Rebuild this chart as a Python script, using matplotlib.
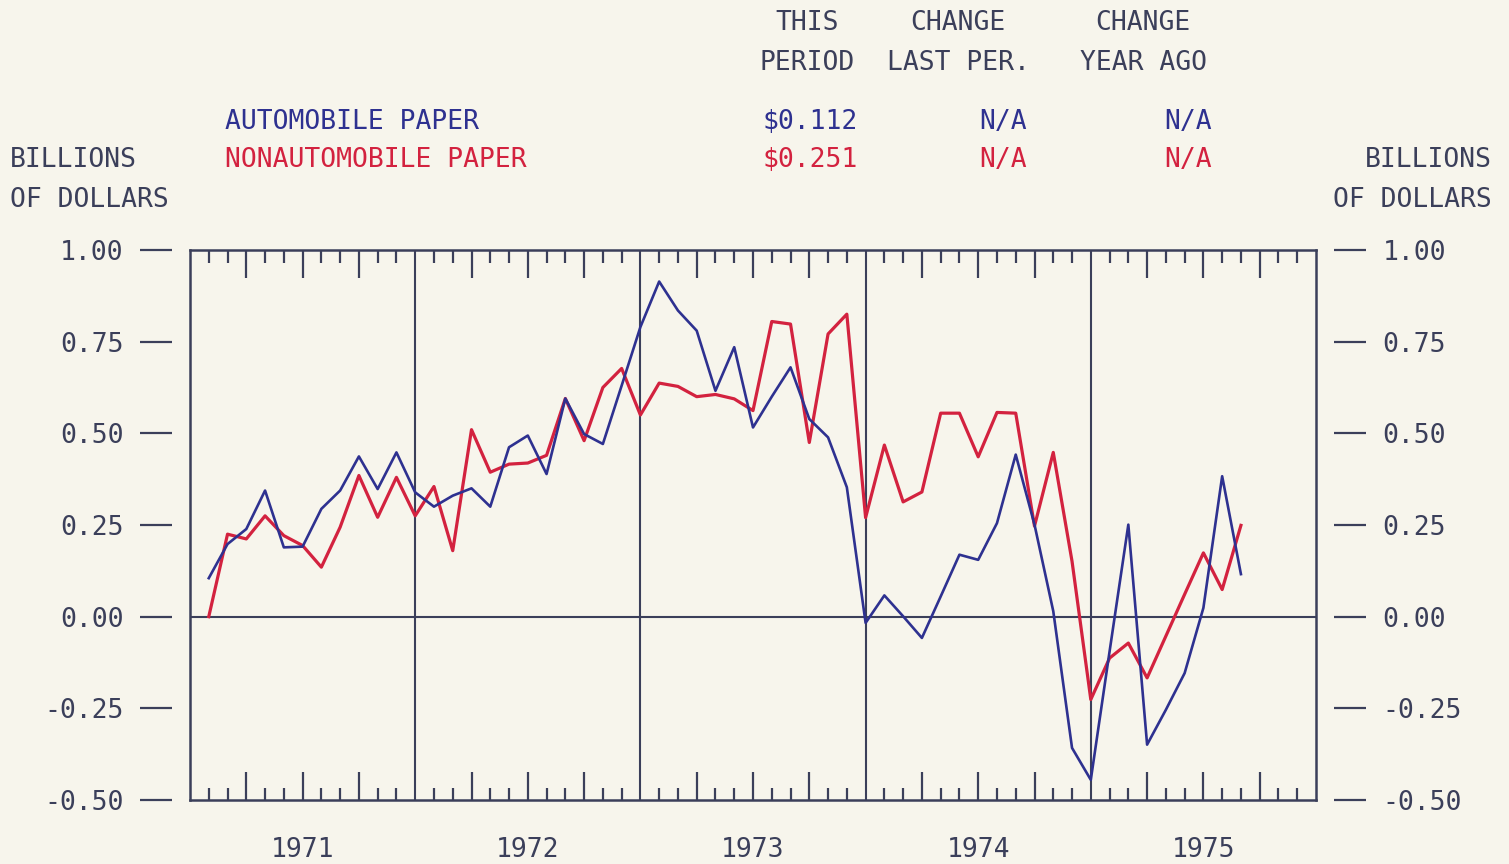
import matplotlib
matplotlib.use("Agg")
import matplotlib.pyplot as plt
import numpy as np

# monthly data, Jan 1971 .. Aug 1975 (billions of dollars)
years = ["1971", "1972", "1973", "1974", "1975"]
auto = [0.105, 0.198, 0.239, 0.344, 0.189, 0.191, 0.294, 0.344, 0.437, 0.348, 0.448, 0.339,
        0.300, 0.330, 0.350, 0.300, 0.462, 0.494, 0.389, 0.595, 0.498, 0.471, 0.630, 0.790,
        0.914, 0.835, 0.780, 0.616, 0.735, 0.516, 0.600, 0.680, 0.539, 0.489, 0.353, -0.017,
        0.058, 0.001, -0.058, 0.055, 0.169, 0.155, 0.255, 0.442, 0.251, 0.015, -0.358, -0.445,
        -0.095, 0.251, -0.349, -0.254, -0.154, 0.024, 0.383, 0.116]
nonauto = [0.000, 0.225, 0.212, 0.275, 0.221, 0.194, 0.135, 0.244, 0.385, 0.271, 0.380, 0.275,
           0.355, 0.180, 0.510, 0.394, 0.416, 0.419, 0.440, 0.595, 0.480, 0.625, 0.677, 0.550,
           0.637, 0.628, 0.600, 0.606, 0.594, 0.562, 0.805, 0.798, 0.475, 0.771, 0.825, 0.270,
           0.468, 0.313, 0.340, 0.555, 0.555, 0.436, 0.557, 0.555, 0.247, 0.448, 0.151, -0.226,
           -0.113, -0.072, -0.167, -0.053, 0.061, 0.174, 0.074, 0.249]
yticks = [-0.50, -0.25, 0.00, 0.25, 0.50, 0.75, 1.00]

bg = '#f7f5ec'
ink = '#3b3f5a'
blue = '#2e3190'
red = '#d3223f'
fnt = 'DejaVu Sans Mono'
fs = 19

W, H = 1509, 864
fig = plt.figure(figsize=(W/100, H/100), dpi=100, facecolor=bg)
ax = fig.add_axes([190/W, 1-800/H, 1126/W, 550/H], facecolor=bg)

months = np.arange(1, len(auto)+1)
ax.plot(months, nonauto, color=red, lw=2.3, zorder=3)
ax.plot(months, auto, color=blue, lw=1.9, zorder=4)

ax.set_xlim(0, 60)
ax.set_ylim(-0.5, 1.0)

# year lines and zero line
for x in [12, 24, 36, 48]:
    ax.axvline(x, color=ink, lw=1.5, zorder=2)
ax.axhline(0, color=ink, lw=1.5, zorder=2)
for x in [0, 60]:
    ax.axvline(x, color=ink, lw=1.8, zorder=2, clip_on=False)

# month ticks top and bottom
allm = [m for m in range(1, 60) if m % 12 != 0]
major = [m for m in allm if m % 3 == 0]
minor = [m for m in allm if m % 3 != 0]
ax.set_xticks(major)
ax.set_xticks(minor, minor=True)
ax.tick_params(axis='x', which='both', direction='in', top=True, bottom=True,
               labelbottom=False, color=ink, width=1.6)
ax.tick_params(axis='x', which='major', length=20)
ax.tick_params(axis='x', which='minor', length=9)

for s in ['top', 'bottom']:
    ax.spines[s].set_color(ink)
    ax.spines[s].set_linewidth(1.8)
for s in ['left', 'right']:
    ax.spines[s].set_position(('outward', 13))
    ax.spines[s].set_color('none')

ax.set_yticks(yticks)
ax.set_yticklabels(['%.2f' % v for v in yticks])
ax.yaxis.set_ticks_position('both')
ax.tick_params(axis='y', direction='out', length=23, width=1.6, color=ink,
               labelleft=True, labelright=True, labelsize=fs, labelcolor=ink)
ax.tick_params(axis='y', pad=12)
for lab in ax.get_yticklabels():
    lab.set_family(fnt)

for i, y in enumerate(years):
    ax.annotate(y, xy=(6 + 12*i, 0), xycoords=('data', 'axes fraction'),
                xytext=(0, -36), textcoords='offset points', ha='center', va='center',
                fontsize=fs, family=fnt, color=ink)

def t(x, y, s, c=ink, ha='left'):
    fig.text(x/W, 1-y/H, s, ha=ha, va='center', fontsize=fs, family=fnt, color=c)

t(807, 23, 'THIS', ha='center')
t(807, 63, 'PERIOD', ha='center')
t(958, 23, 'CHANGE', ha='center')
t(958, 63, 'LAST PER.', ha='center')
t(1143, 23, 'CHANGE', ha='center')
t(1143, 63, 'YEAR AGO', ha='center')

t(225, 122, 'AUTOMOBILE PAPER', blue)
t(858, 122, '$0.112', blue, 'right')
t(1027, 122, 'N/A', blue, 'right')
t(1212, 122, 'N/A', blue, 'right')
t(225, 160, 'NONAUTOMOBILE PAPER', red)
t(858, 160, '$0.251', red, 'right')
t(1027, 160, 'N/A', red, 'right')
t(1212, 160, 'N/A', red, 'right')

t(10, 160, 'BILLIONS')
t(10, 200, 'OF DOLLARS')
t(1492, 160, 'BILLIONS', ha='right')
t(1492, 200, 'OF DOLLARS', ha='right')

fig.savefig('out.png', dpi=100, facecolor=bg)
